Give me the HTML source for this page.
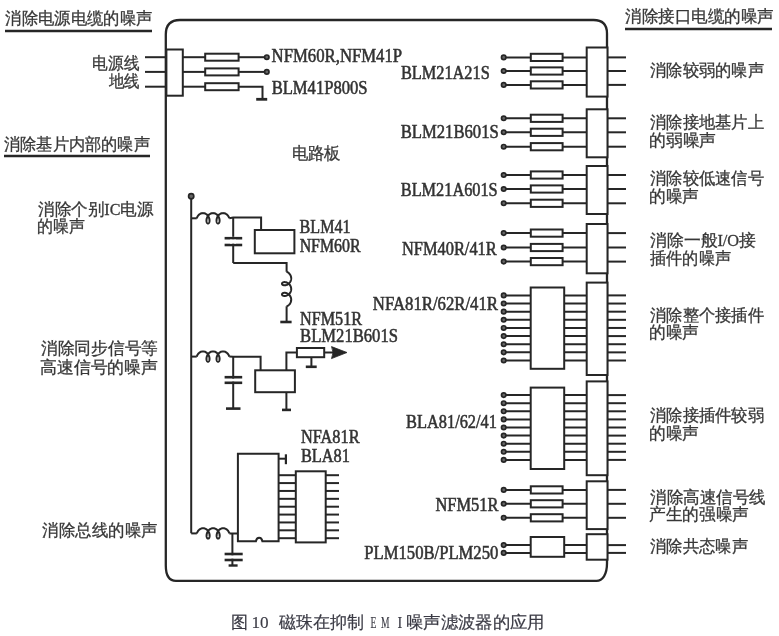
<!DOCTYPE html>
<html><head><meta charset="utf-8"><style>
html,body{margin:0;padding:0;background:#fff;width:779px;height:636px;overflow:hidden}
svg{position:absolute;left:0;top:0;filter:blur(0.35px)}
.lt{font-family:"Liberation Serif",serif;fill:#333;stroke:#333;stroke-width:0.55px}
.cj{font-family:"Liberation Serif",serif;fill:#383838;stroke:#383838;stroke-width:0.3px}
.capl{font-family:"Liberation Serif",serif;fill:#3a3a44;stroke:#3a3a44;stroke-width:0.15px}
.cap{font-family:"Liberation Mono",monospace;fill:#3a3a44;stroke:#3a3a44;stroke-width:0.2px}
</style></head><body>
<svg width="779" height="636" viewBox="0 0 779 636">
<path d="M165.8 565.5 L165.8 34.5 Q165.8 20 180 20 L593.5 20 Q607 20 607 33.5 L607 563.5 C607 574.5 602.5 580.8 596.5 580.8 L176 580.8 Q165.8 580.8 165.8 565.5 Z" stroke="#262626" stroke-width="2.3" fill="none"/>
<text id="t0" x="5.42" y="24.00" font-size="16.5" class="cj" textLength="146.94" lengthAdjust="spacingAndGlyphs">消除电源电缆的噪声</text>
<line x1="5" y1="31" x2="152" y2="31" stroke="#262626" stroke-width="2.6"/>
<text id="t1" x="625.02" y="22.00" font-size="16.5" class="cj" textLength="148.95" lengthAdjust="spacingAndGlyphs">消除接口电缆的噪声</text>
<line x1="625" y1="29" x2="772" y2="29" stroke="#262626" stroke-width="2.6"/>
<text id="t2" x="3.94" y="149.90" font-size="16.5" class="cj" textLength="145.94" lengthAdjust="spacingAndGlyphs">消除基片内部的噪声</text>
<line x1="4" y1="156" x2="150" y2="156" stroke="#262626" stroke-width="2.6"/>
<text id="t3" x="92.44" y="68.80" font-size="16.5" class="cj" textLength="46.96" lengthAdjust="spacingAndGlyphs">电源线</text>
<text id="t4" x="108.76" y="86.60" font-size="16.5" class="cj" textLength="31.04" lengthAdjust="spacingAndGlyphs">地线</text>
<line x1="145" y1="57.2" x2="166.4" y2="57.2" stroke="#262626" stroke-width="2.0"/>
<line x1="182.8" y1="57.2" x2="205" y2="57.2" stroke="#262626" stroke-width="2.0"/>
<line x1="145" y1="71.9" x2="166.4" y2="71.9" stroke="#262626" stroke-width="2.0"/>
<line x1="182.8" y1="71.9" x2="205" y2="71.9" stroke="#262626" stroke-width="2.0"/>
<line x1="145" y1="86.7" x2="166.4" y2="86.7" stroke="#262626" stroke-width="2.0"/>
<line x1="182.8" y1="86.7" x2="205" y2="86.7" stroke="#262626" stroke-width="2.0"/>
<line x1="238.6" y1="57.2" x2="266.8" y2="57.2" stroke="#262626" stroke-width="2.0"/>
<line x1="238.6" y1="71.9" x2="266.8" y2="71.9" stroke="#262626" stroke-width="2.0"/>
<path d="M238.6 86.7 L262.5 86.7 L262.5 99.3" stroke="#262626" stroke-width="2.0" fill="none"/>
<line x1="256.2" y1="99.3" x2="267.2" y2="99.3" stroke="#262626" stroke-width="2.8"/>
<rect x="205.2" y="53.7" width="33.400000000000006" height="7.0" stroke="#262626" stroke-width="2.0" fill="#fff"/>
<rect x="205.2" y="68.4" width="33.400000000000006" height="7.0" stroke="#262626" stroke-width="2.0" fill="#fff"/>
<rect x="205.2" y="83.2" width="33.400000000000006" height="7.0" stroke="#262626" stroke-width="2.0" fill="#fff"/>
<rect x="166.4" y="49.5" width="16.400000000000006" height="46.2" stroke="#262626" stroke-width="2.0" fill="#fff"/>
<circle cx="266.8" cy="57.2" r="2.2" fill="#666" stroke="#262626" stroke-width="1.7"/>
<circle cx="266.8" cy="71.9" r="2.2" fill="#666" stroke="#262626" stroke-width="1.7"/>
<text id="t5" x="271.62" y="61.76" font-size="18" class="lt" textLength="130.52" lengthAdjust="spacingAndGlyphs">NFM60R,NFM41P</text>
<text id="t6" x="271.63" y="93.60" font-size="18" class="lt" textLength="95.97" lengthAdjust="spacingAndGlyphs">BLM41P800S</text>
<text id="t7" x="291.73" y="158.50" font-size="16.5" class="cj" textLength="48.93" lengthAdjust="spacingAndGlyphs">电路板</text>
<line x1="504" y1="57.4" x2="586.7" y2="57.4" stroke="#262626" stroke-width="2.0"/>
<line x1="607" y1="57.4" x2="626" y2="57.4" stroke="#262626" stroke-width="2.0"/>
<line x1="504" y1="71" x2="586.7" y2="71" stroke="#262626" stroke-width="2.0"/>
<line x1="607" y1="71" x2="626" y2="71" stroke="#262626" stroke-width="2.0"/>
<line x1="504" y1="84.9" x2="586.7" y2="84.9" stroke="#262626" stroke-width="2.0"/>
<line x1="607" y1="84.9" x2="626" y2="84.9" stroke="#262626" stroke-width="2.0"/>
<rect x="530.8" y="53.8" width="31.800000000000068" height="7.200000000000003" stroke="#262626" stroke-width="2.0" fill="#fff"/>
<rect x="530.8" y="67.4" width="31.800000000000068" height="7.199999999999989" stroke="#262626" stroke-width="2.0" fill="#fff"/>
<rect x="530.8" y="81.30000000000001" width="31.800000000000068" height="7.199999999999989" stroke="#262626" stroke-width="2.0" fill="#fff"/>
<rect x="586.7" y="47.5" width="20.799999999999955" height="49.099999999999994" stroke="#262626" stroke-width="2.0" fill="#fff"/>
<circle cx="503.7" cy="57.4" r="2.2" fill="#666" stroke="#262626" stroke-width="1.7"/>
<circle cx="503.7" cy="71" r="2.2" fill="#666" stroke="#262626" stroke-width="1.7"/>
<circle cx="503.7" cy="84.9" r="2.2" fill="#666" stroke="#262626" stroke-width="1.7"/>
<text id="t8" x="400.89" y="78.50" font-size="18" class="lt" textLength="88.88" lengthAdjust="spacingAndGlyphs">BLM21A21S</text>
<text id="t9" x="650.03" y="75.60" font-size="16.5" class="cj" textLength="113.94" lengthAdjust="spacingAndGlyphs">消除较弱的噪声</text>
<line x1="504" y1="118.3" x2="586.7" y2="118.3" stroke="#262626" stroke-width="2.0"/>
<line x1="607" y1="118.3" x2="626" y2="118.3" stroke="#262626" stroke-width="2.0"/>
<line x1="504" y1="132.3" x2="586.7" y2="132.3" stroke="#262626" stroke-width="2.0"/>
<line x1="607" y1="132.3" x2="626" y2="132.3" stroke="#262626" stroke-width="2.0"/>
<line x1="504" y1="146.7" x2="586.7" y2="146.7" stroke="#262626" stroke-width="2.0"/>
<line x1="607" y1="146.7" x2="626" y2="146.7" stroke="#262626" stroke-width="2.0"/>
<rect x="530.8" y="114.7" width="31.800000000000068" height="7.199999999999989" stroke="#262626" stroke-width="2.0" fill="#fff"/>
<rect x="530.8" y="128.70000000000002" width="31.800000000000068" height="7.199999999999989" stroke="#262626" stroke-width="2.0" fill="#fff"/>
<rect x="530.8" y="143.1" width="31.800000000000068" height="7.199999999999989" stroke="#262626" stroke-width="2.0" fill="#fff"/>
<rect x="586.7" y="109.3" width="20.799999999999955" height="48.000000000000014" stroke="#262626" stroke-width="2.0" fill="#fff"/>
<circle cx="503.7" cy="118.3" r="2.2" fill="#666" stroke="#262626" stroke-width="1.7"/>
<circle cx="503.7" cy="132.3" r="2.2" fill="#666" stroke="#262626" stroke-width="1.7"/>
<circle cx="503.7" cy="146.7" r="2.2" fill="#666" stroke="#262626" stroke-width="1.7"/>
<text id="t10" x="400.78" y="138.30" font-size="18" class="lt" textLength="97.93" lengthAdjust="spacingAndGlyphs">BLM21B601S</text>
<text id="t11" x="650.03" y="128.00" font-size="16.5" class="cj" textLength="113.94" lengthAdjust="spacingAndGlyphs">消除接地基片上</text>
<text id="t12" x="649.02" y="146.20" font-size="16.5" class="cj" textLength="66.97" lengthAdjust="spacingAndGlyphs">的弱噪声</text>
<line x1="504" y1="175" x2="586.7" y2="175" stroke="#262626" stroke-width="2.0"/>
<line x1="607" y1="175" x2="626" y2="175" stroke="#262626" stroke-width="2.0"/>
<line x1="504" y1="189" x2="586.7" y2="189" stroke="#262626" stroke-width="2.0"/>
<line x1="607" y1="189" x2="626" y2="189" stroke="#262626" stroke-width="2.0"/>
<line x1="504" y1="203.3" x2="586.7" y2="203.3" stroke="#262626" stroke-width="2.0"/>
<line x1="607" y1="203.3" x2="626" y2="203.3" stroke="#262626" stroke-width="2.0"/>
<rect x="530.8" y="171.4" width="31.800000000000068" height="7.199999999999989" stroke="#262626" stroke-width="2.0" fill="#fff"/>
<rect x="530.8" y="185.4" width="31.800000000000068" height="7.199999999999989" stroke="#262626" stroke-width="2.0" fill="#fff"/>
<rect x="530.8" y="199.70000000000002" width="31.800000000000068" height="7.199999999999989" stroke="#262626" stroke-width="2.0" fill="#fff"/>
<rect x="586.7" y="166" width="20.799999999999955" height="48" stroke="#262626" stroke-width="2.0" fill="#fff"/>
<circle cx="503.7" cy="175" r="2.2" fill="#666" stroke="#262626" stroke-width="1.7"/>
<circle cx="503.7" cy="189" r="2.2" fill="#666" stroke="#262626" stroke-width="1.7"/>
<circle cx="503.7" cy="203.3" r="2.2" fill="#666" stroke="#262626" stroke-width="1.7"/>
<text id="t13" x="400.80" y="196.39" font-size="18" class="lt" textLength="96.87" lengthAdjust="spacingAndGlyphs">BLM21A601S</text>
<text id="t14" x="650.03" y="184.00" font-size="16.5" class="cj" textLength="113.94" lengthAdjust="spacingAndGlyphs">消除较低速信号</text>
<text id="t15" x="649.02" y="202.40" font-size="16.5" class="cj" textLength="49.96" lengthAdjust="spacingAndGlyphs">的噪声</text>
<line x1="504" y1="233.1" x2="586.7" y2="233.1" stroke="#262626" stroke-width="2.0"/>
<line x1="607" y1="233.1" x2="626" y2="233.1" stroke="#262626" stroke-width="2.0"/>
<line x1="504" y1="247.5" x2="586.7" y2="247.5" stroke="#262626" stroke-width="2.0"/>
<line x1="607" y1="247.5" x2="626" y2="247.5" stroke="#262626" stroke-width="2.0"/>
<line x1="504" y1="261.6" x2="586.7" y2="261.6" stroke="#262626" stroke-width="2.0"/>
<line x1="607" y1="261.6" x2="626" y2="261.6" stroke="#262626" stroke-width="2.0"/>
<rect x="530.8" y="229.5" width="31.800000000000068" height="7.199999999999989" stroke="#262626" stroke-width="2.0" fill="#fff"/>
<rect x="530.8" y="243.9" width="31.800000000000068" height="7.199999999999989" stroke="#262626" stroke-width="2.0" fill="#fff"/>
<rect x="530.8" y="258.0" width="31.800000000000068" height="7.2000000000000455" stroke="#262626" stroke-width="2.0" fill="#fff"/>
<rect x="586.7" y="224" width="20.799999999999955" height="49.30000000000001" stroke="#262626" stroke-width="2.0" fill="#fff"/>
<circle cx="503.7" cy="233.1" r="2.2" fill="#666" stroke="#262626" stroke-width="1.7"/>
<circle cx="503.7" cy="247.5" r="2.2" fill="#666" stroke="#262626" stroke-width="1.7"/>
<circle cx="503.7" cy="261.6" r="2.2" fill="#666" stroke="#262626" stroke-width="1.7"/>
<text id="t16" x="402.01" y="254.70" font-size="18" class="lt" textLength="94.74" lengthAdjust="spacingAndGlyphs">NFM40R/41R</text>
<text id="t17" x="650.00" y="245.80" font-size="16.5" class="cj" textLength="106.02" lengthAdjust="spacingAndGlyphs">消除一般I/O接</text>
<text id="t18" x="650.00" y="264.20" font-size="16.5" class="cj" textLength="80.96" lengthAdjust="spacingAndGlyphs">插件的噪声</text>
<line x1="504" y1="295.4" x2="586.7" y2="295.4" stroke="#262626" stroke-width="2.0"/>
<line x1="607" y1="295.4" x2="626" y2="295.4" stroke="#262626" stroke-width="2.0"/>
<line x1="504" y1="303.53749999999997" x2="586.7" y2="303.53749999999997" stroke="#262626" stroke-width="2.0"/>
<line x1="607" y1="303.53749999999997" x2="626" y2="303.53749999999997" stroke="#262626" stroke-width="2.0"/>
<line x1="504" y1="311.67499999999995" x2="586.7" y2="311.67499999999995" stroke="#262626" stroke-width="2.0"/>
<line x1="607" y1="311.67499999999995" x2="626" y2="311.67499999999995" stroke="#262626" stroke-width="2.0"/>
<line x1="504" y1="319.8125" x2="586.7" y2="319.8125" stroke="#262626" stroke-width="2.0"/>
<line x1="607" y1="319.8125" x2="626" y2="319.8125" stroke="#262626" stroke-width="2.0"/>
<line x1="504" y1="327.95" x2="586.7" y2="327.95" stroke="#262626" stroke-width="2.0"/>
<line x1="607" y1="327.95" x2="626" y2="327.95" stroke="#262626" stroke-width="2.0"/>
<line x1="504" y1="336.0875" x2="586.7" y2="336.0875" stroke="#262626" stroke-width="2.0"/>
<line x1="607" y1="336.0875" x2="626" y2="336.0875" stroke="#262626" stroke-width="2.0"/>
<line x1="504" y1="344.225" x2="586.7" y2="344.225" stroke="#262626" stroke-width="2.0"/>
<line x1="607" y1="344.225" x2="626" y2="344.225" stroke="#262626" stroke-width="2.0"/>
<line x1="504" y1="352.3625" x2="586.7" y2="352.3625" stroke="#262626" stroke-width="2.0"/>
<line x1="607" y1="352.3625" x2="626" y2="352.3625" stroke="#262626" stroke-width="2.0"/>
<line x1="504" y1="360.5" x2="586.7" y2="360.5" stroke="#262626" stroke-width="2.0"/>
<line x1="607" y1="360.5" x2="626" y2="360.5" stroke="#262626" stroke-width="2.0"/>
<rect x="530.7" y="287.5" width="33.5" height="81.30000000000001" stroke="#262626" stroke-width="2.0" fill="#fff"/>
<rect x="586.7" y="282.6" width="20.799999999999955" height="92.39999999999998" stroke="#262626" stroke-width="2.0" fill="#fff"/>
<circle cx="503.7" cy="295.4" r="2.2" fill="#666" stroke="#262626" stroke-width="1.7"/>
<circle cx="503.7" cy="303.53749999999997" r="2.2" fill="#666" stroke="#262626" stroke-width="1.7"/>
<circle cx="503.7" cy="311.67499999999995" r="2.2" fill="#666" stroke="#262626" stroke-width="1.7"/>
<circle cx="503.7" cy="319.8125" r="2.2" fill="#666" stroke="#262626" stroke-width="1.7"/>
<circle cx="503.7" cy="327.95" r="2.2" fill="#666" stroke="#262626" stroke-width="1.7"/>
<circle cx="503.7" cy="336.0875" r="2.2" fill="#666" stroke="#262626" stroke-width="1.7"/>
<circle cx="503.7" cy="344.225" r="2.2" fill="#666" stroke="#262626" stroke-width="1.7"/>
<circle cx="503.7" cy="352.3625" r="2.2" fill="#666" stroke="#262626" stroke-width="1.7"/>
<circle cx="503.7" cy="360.5" r="2.2" fill="#666" stroke="#262626" stroke-width="1.7"/>
<text id="t19" x="372.80" y="309.50" font-size="18" class="lt" textLength="125.19" lengthAdjust="spacingAndGlyphs">NFA81R/62R/41R</text>
<text id="t20" x="650.03" y="320.50" font-size="16.5" class="cj" textLength="113.93" lengthAdjust="spacingAndGlyphs">消除整个接插件</text>
<text id="t21" x="649.02" y="338.40" font-size="16.5" class="cj" textLength="49.96" lengthAdjust="spacingAndGlyphs">的噪声</text>
<line x1="504" y1="395.1" x2="586.7" y2="395.1" stroke="#262626" stroke-width="2.0"/>
<line x1="607" y1="395.1" x2="626" y2="395.1" stroke="#262626" stroke-width="2.0"/>
<line x1="504" y1="403.20000000000005" x2="586.7" y2="403.20000000000005" stroke="#262626" stroke-width="2.0"/>
<line x1="607" y1="403.20000000000005" x2="626" y2="403.20000000000005" stroke="#262626" stroke-width="2.0"/>
<line x1="504" y1="411.3" x2="586.7" y2="411.3" stroke="#262626" stroke-width="2.0"/>
<line x1="607" y1="411.3" x2="626" y2="411.3" stroke="#262626" stroke-width="2.0"/>
<line x1="504" y1="419.4" x2="586.7" y2="419.4" stroke="#262626" stroke-width="2.0"/>
<line x1="607" y1="419.4" x2="626" y2="419.4" stroke="#262626" stroke-width="2.0"/>
<line x1="504" y1="427.5" x2="586.7" y2="427.5" stroke="#262626" stroke-width="2.0"/>
<line x1="607" y1="427.5" x2="626" y2="427.5" stroke="#262626" stroke-width="2.0"/>
<line x1="504" y1="435.6" x2="586.7" y2="435.6" stroke="#262626" stroke-width="2.0"/>
<line x1="607" y1="435.6" x2="626" y2="435.6" stroke="#262626" stroke-width="2.0"/>
<line x1="504" y1="443.7" x2="586.7" y2="443.7" stroke="#262626" stroke-width="2.0"/>
<line x1="607" y1="443.7" x2="626" y2="443.7" stroke="#262626" stroke-width="2.0"/>
<line x1="504" y1="451.79999999999995" x2="586.7" y2="451.79999999999995" stroke="#262626" stroke-width="2.0"/>
<line x1="607" y1="451.79999999999995" x2="626" y2="451.79999999999995" stroke="#262626" stroke-width="2.0"/>
<line x1="504" y1="459.9" x2="586.7" y2="459.9" stroke="#262626" stroke-width="2.0"/>
<line x1="607" y1="459.9" x2="626" y2="459.9" stroke="#262626" stroke-width="2.0"/>
<rect x="530.7" y="387.6" width="33.5" height="81.39999999999998" stroke="#262626" stroke-width="2.0" fill="#fff"/>
<rect x="586.7" y="381.4" width="20.799999999999955" height="93.80000000000001" stroke="#262626" stroke-width="2.0" fill="#fff"/>
<circle cx="503.7" cy="395.1" r="2.2" fill="#666" stroke="#262626" stroke-width="1.7"/>
<circle cx="503.7" cy="403.20000000000005" r="2.2" fill="#666" stroke="#262626" stroke-width="1.7"/>
<circle cx="503.7" cy="411.3" r="2.2" fill="#666" stroke="#262626" stroke-width="1.7"/>
<circle cx="503.7" cy="419.4" r="2.2" fill="#666" stroke="#262626" stroke-width="1.7"/>
<circle cx="503.7" cy="427.5" r="2.2" fill="#666" stroke="#262626" stroke-width="1.7"/>
<circle cx="503.7" cy="435.6" r="2.2" fill="#666" stroke="#262626" stroke-width="1.7"/>
<circle cx="503.7" cy="443.7" r="2.2" fill="#666" stroke="#262626" stroke-width="1.7"/>
<circle cx="503.7" cy="451.79999999999995" r="2.2" fill="#666" stroke="#262626" stroke-width="1.7"/>
<circle cx="503.7" cy="459.9" r="2.2" fill="#666" stroke="#262626" stroke-width="1.7"/>
<text id="t22" x="406.07" y="428.21" font-size="18" class="lt" textLength="90.87" lengthAdjust="spacingAndGlyphs">BLA81/62/41</text>
<text id="t23" x="650.03" y="421.00" font-size="16.5" class="cj" textLength="113.94" lengthAdjust="spacingAndGlyphs">消除接插件较弱</text>
<text id="t24" x="649.02" y="439.00" font-size="16.5" class="cj" textLength="49.96" lengthAdjust="spacingAndGlyphs">的噪声</text>
<line x1="504" y1="489.9" x2="586.7" y2="489.9" stroke="#262626" stroke-width="2.0"/>
<line x1="607" y1="489.9" x2="626" y2="489.9" stroke="#262626" stroke-width="2.0"/>
<line x1="504" y1="503.8" x2="586.7" y2="503.8" stroke="#262626" stroke-width="2.0"/>
<line x1="607" y1="503.8" x2="626" y2="503.8" stroke="#262626" stroke-width="2.0"/>
<line x1="504" y1="517.8" x2="586.7" y2="517.8" stroke="#262626" stroke-width="2.0"/>
<line x1="607" y1="517.8" x2="626" y2="517.8" stroke="#262626" stroke-width="2.0"/>
<rect x="530.8" y="486.29999999999995" width="31.800000000000068" height="7.2000000000000455" stroke="#262626" stroke-width="2.0" fill="#fff"/>
<rect x="530.8" y="500.2" width="31.800000000000068" height="7.2000000000000455" stroke="#262626" stroke-width="2.0" fill="#fff"/>
<rect x="530.8" y="514.1999999999999" width="31.800000000000068" height="7.2000000000000455" stroke="#262626" stroke-width="2.0" fill="#fff"/>
<rect x="586.7" y="481.3" width="20.799999999999955" height="47.80000000000001" stroke="#262626" stroke-width="2.0" fill="#fff"/>
<circle cx="503.7" cy="489.9" r="2.2" fill="#666" stroke="#262626" stroke-width="1.7"/>
<circle cx="503.7" cy="503.8" r="2.2" fill="#666" stroke="#262626" stroke-width="1.7"/>
<circle cx="503.7" cy="517.8" r="2.2" fill="#666" stroke="#262626" stroke-width="1.7"/>
<text id="t25" x="435.51" y="510.58" font-size="18" class="lt" textLength="63.00" lengthAdjust="spacingAndGlyphs">NFM51R</text>
<text id="t26" x="650.02" y="502.50" font-size="16.5" class="cj" textLength="115.96" lengthAdjust="spacingAndGlyphs">消除高速信号线</text>
<text id="t27" x="649.01" y="519.70" font-size="16.5" class="cj" textLength="99.97" lengthAdjust="spacingAndGlyphs">产生的强噪声</text>
<line x1="504" y1="545.1" x2="586.7" y2="545.1" stroke="#262626" stroke-width="2.0"/>
<line x1="607" y1="545.1" x2="626" y2="545.1" stroke="#262626" stroke-width="2.0"/>
<line x1="504" y1="552.9" x2="586.7" y2="552.9" stroke="#262626" stroke-width="2.0"/>
<line x1="607" y1="552.9" x2="626" y2="552.9" stroke="#262626" stroke-width="2.0"/>
<rect x="530.7" y="537" width="33.5" height="19.799999999999955" stroke="#262626" stroke-width="2.0" fill="#fff"/>
<rect x="586.7" y="534.2" width="20.799999999999955" height="25.5" stroke="#262626" stroke-width="2.0" fill="#fff"/>
<circle cx="503.7" cy="545.1" r="2.2" fill="#666" stroke="#262626" stroke-width="1.7"/>
<circle cx="503.7" cy="552.9" r="2.2" fill="#666" stroke="#262626" stroke-width="1.7"/>
<text id="t28" x="364.35" y="558.60" font-size="18" class="lt" textLength="133.96" lengthAdjust="spacingAndGlyphs">PLM150B/PLM250</text>
<text id="t29" x="650.04" y="552.30" font-size="16.5" class="cj" textLength="97.94" lengthAdjust="spacingAndGlyphs">消除共态噪声</text>
<text id="t30" x="38.01" y="215.00" font-size="16.5" class="cj" textLength="115.53" lengthAdjust="spacingAndGlyphs">消除个别IC电源</text>
<text id="t31" x="37.06" y="232.00" font-size="16.5" class="cj" textLength="47.90" lengthAdjust="spacingAndGlyphs">的噪声</text>
<text id="t32" x="41.01" y="353.50" font-size="16.5" class="cj" textLength="116.99" lengthAdjust="spacingAndGlyphs">消除同步信号等</text>
<text id="t33" x="40.00" y="372.90" font-size="16.5" class="cj" textLength="118.01" lengthAdjust="spacingAndGlyphs">高速信号的噪声</text>
<text id="t34" x="42.41" y="536.30" font-size="16.5" class="cj" textLength="114.95" lengthAdjust="spacingAndGlyphs">消除总线的噪声</text>
<line x1="191.2" y1="196" x2="191.2" y2="533.2" stroke="#262626" stroke-width="2.0"/>
<circle cx="191.2" cy="196.3" r="2.6" fill="#666" stroke="#262626" stroke-width="1.7"/>
<path d="M191.2 218.3 L196.76 218.30" stroke="#262626" stroke-width="2.0" fill="none"/>
<path d="M196.76 218.30 L196.94 217.79 L197.15 217.29 L197.39 216.79 L197.67 216.31 L197.98 215.85 L198.33 215.41 L198.70 215.00 L199.10 214.62 L199.53 214.28 L199.98 213.98 L200.44 213.71 L200.93 213.50 L201.43 213.32 L201.94 213.20 L202.45 213.13 L202.97 213.10 L203.49 213.13 L204.01 213.20 L204.52 213.32 L205.02 213.50 L205.50 213.71 L205.97 213.98 L206.42 214.28 L206.85 214.62 L207.25 215.00 L207.62 215.41 L207.96 215.85 L208.28 216.31 L208.56 216.79 L208.80 217.29 L209.01 217.79 L209.19 218.30 L209.33 218.81 L209.43 219.31 L209.50 219.81 L209.53 220.29 L209.54 220.75 L209.51 221.19 L209.45 221.60 L209.36 221.98 L209.25 222.32 L209.11 222.62 L208.96 222.89 L208.79 223.10 L208.60 223.28 L208.41 223.40 L208.21 223.47 L208.00 223.50 L207.79 223.47 L207.59 223.40 L207.40 223.28 L207.21 223.10 L207.04 222.89 L206.89 222.62 L206.75 222.32 L206.64 221.98 L206.55 221.60 L206.49 221.19 L206.46 220.75 L206.47 220.29 L206.50 219.81 L206.57 219.31 L206.67 218.81 L206.81 218.30 L206.99 217.79 L207.20 217.29 L207.44 216.79 L207.72 216.31 L208.04 215.85 L208.38 215.41 L208.75 215.00 L209.15 214.62 L209.58 214.28 L210.03 213.98 L210.50 213.71 L210.98 213.50 L211.48 213.32 L211.99 213.20 L212.51 213.13 L213.03 213.10 L213.55 213.13 L214.06 213.20 L214.57 213.32 L215.07 213.50 L215.56 213.71 L216.02 213.98 L216.47 214.28 L216.90 214.62 L217.30 215.00 L217.67 215.41 L218.02 215.85 L218.33 216.31 L218.61 216.79 L218.85 217.29 L219.06 217.79 L219.24 218.30 L219.38 218.81 L219.48 219.31 L219.55 219.81 L219.59 220.29 L219.59 220.75 L219.56 221.19 L219.50 221.60 L219.41 221.98 L219.30 222.32 L219.17 222.62 L219.01 222.89 L218.84 223.10 L218.66 223.28 L218.46 223.40 L218.26 223.47 L218.05 223.50 L217.85 223.47 L217.65 223.40 L217.45 223.28 L217.27 223.10 L217.09 222.89 L216.94 222.62 L216.81 222.32 L216.69 221.98 L216.61 221.60 L216.55 221.19 L216.52 220.75 L216.52 220.29 L216.55 219.81 L216.62 219.31 L216.73 218.81 L216.87 218.30 L217.04 217.79 L217.25 217.29 L217.50 216.79 L217.78 216.31 L218.09 215.85 L218.43 215.41 L218.81 215.00 L219.21 214.62 L219.63 214.28 L220.08 213.98 L220.55 213.71 L221.04 213.50 L221.53 213.32 L222.04 213.20 L222.56 213.13 L223.08 213.10 L223.60 213.13 L224.12 213.20 L224.62 213.32 L225.12 213.50 L225.61 213.71 L226.08 213.98 L226.53 214.28 L226.95 214.62 L227.35 215.00 L227.73 215.41 L228.07 215.85 L228.38 216.31 L228.66 216.79 L228.91 217.29 L229.12 217.79 L229.29 218.30" stroke="#262626" stroke-width="2.0" fill="none"/>
<path d="M229.29 218.30 L233.2 217.6 L261.1 217.6 L261.1 230" stroke="#262626" stroke-width="2.0" fill="none"/>
<line x1="233.2" y1="217.6" x2="233.2" y2="263" stroke="#262626" stroke-width="2.0"/>
<line x1="224.6" y1="238.2" x2="242.2" y2="238.2" stroke="#fff" stroke-width="2.8"/>
<line x1="224.6" y1="238.2" x2="242.2" y2="238.2" stroke="#262626" stroke-width="2.6"/>
<line x1="224.6" y1="245" x2="242.2" y2="245" stroke="#262626" stroke-width="2.6"/>
<rect x="230" y="239.6" width="6" height="4" fill="#fff"/>
<rect x="254.8" y="230" width="39.599999999999966" height="23.30000000000001" stroke="#262626" stroke-width="2.0" fill="#fff"/>
<path d="M233.2 263 L286.6 263 L286.6 270" stroke="#262626" stroke-width="2.0" fill="none"/>
<path d="M286.6 270 L286.60 271.79" stroke="#262626" stroke-width="2.0" fill="none"/>
<path d="M286.60 271.79 L287.05 271.97 L287.50 272.20 L287.94 272.46 L288.36 272.75 L288.77 273.08 L289.16 273.45 L289.52 273.84 L289.85 274.27 L290.16 274.72 L290.42 275.19 L290.66 275.69 L290.85 276.20 L291.00 276.73 L291.11 277.26 L291.18 277.81 L291.20 278.36 L291.18 278.91 L291.11 279.45 L291.00 279.99 L290.85 280.52 L290.66 281.03 L290.42 281.53 L290.16 282.00 L289.85 282.45 L289.52 282.88 L289.16 283.27 L288.77 283.63 L288.36 283.97 L287.94 284.26 L287.50 284.52 L287.05 284.74 L286.60 284.93 L286.15 285.08 L285.70 285.19 L285.26 285.26 L284.84 285.30 L284.43 285.30 L284.04 285.27 L283.68 285.21 L283.35 285.12 L283.04 285.01 L282.78 284.87 L282.54 284.70 L282.35 284.52 L282.20 284.33 L282.09 284.13 L282.02 283.92 L282.00 283.70 L282.02 283.48 L282.09 283.27 L282.20 283.07 L282.35 282.88 L282.54 282.70 L282.78 282.53 L283.04 282.39 L283.35 282.28 L283.68 282.19 L284.04 282.13 L284.43 282.10 L284.84 282.10 L285.26 282.14 L285.70 282.21 L286.15 282.32 L286.60 282.47 L287.05 282.66 L287.50 282.88 L287.94 283.14 L288.36 283.43 L288.77 283.77 L289.16 284.13 L289.52 284.52 L289.85 284.95 L290.16 285.40 L290.42 285.87 L290.66 286.37 L290.85 286.88 L291.00 287.41 L291.11 287.95 L291.18 288.49 L291.20 289.04 L291.18 289.59 L291.11 290.14 L291.00 290.67 L290.85 291.20 L290.66 291.71 L290.42 292.21 L290.16 292.68 L289.85 293.13 L289.52 293.56 L289.16 293.95 L288.77 294.32 L288.36 294.65 L287.94 294.94 L287.50 295.20 L287.05 295.43 L286.60 295.61 L286.15 295.76 L285.70 295.87 L285.26 295.94 L284.84 295.98 L284.43 295.99 L284.04 295.96 L283.68 295.89 L283.35 295.80 L283.04 295.69 L282.78 295.55 L282.54 295.39 L282.35 295.21 L282.20 295.01 L282.09 294.81 L282.02 294.60 L282.00 294.38 L282.02 294.17 L282.09 293.95 L282.20 293.75 L282.35 293.56 L282.54 293.38 L282.78 293.22 L283.04 293.08 L283.35 292.96 L283.68 292.87 L284.04 292.81 L284.43 292.78 L284.84 292.78 L285.26 292.82 L285.70 292.89 L286.15 293.00 L286.60 293.15 L287.05 293.34 L287.50 293.56 L287.94 293.82 L288.36 294.12 L288.77 294.45 L289.16 294.81 L289.52 295.21 L289.85 295.63 L290.16 296.08 L290.42 296.55 L290.66 297.05 L290.85 297.56 L291.00 298.09 L291.11 298.63 L291.18 299.17 L291.20 299.72 L291.18 300.27 L291.11 300.82 L291.00 301.35 L290.85 301.88 L290.66 302.40 L290.42 302.89 L290.16 303.36 L289.85 303.82 L289.52 304.24 L289.16 304.63 L288.77 305.00 L288.36 305.33 L287.94 305.62 L287.50 305.88 L287.05 306.11 L286.60 306.29" stroke="#262626" stroke-width="2.0" fill="none"/>
<path d="M286.60 306.29 L286.6 322" stroke="#262626" stroke-width="2.0" fill="none"/>
<line x1="280.3" y1="322" x2="291.6" y2="322" stroke="#262626" stroke-width="2.6"/>
<text id="t35" x="299.62" y="233.13" font-size="18" class="lt" textLength="50.87" lengthAdjust="spacingAndGlyphs">BLM41</text>
<text id="t36" x="299.64" y="252.35" font-size="18" class="lt" textLength="60.96" lengthAdjust="spacingAndGlyphs">NFM60R</text>
<text id="t37" x="300.07" y="324.79" font-size="18" class="lt" textLength="61.96" lengthAdjust="spacingAndGlyphs">NFM51R</text>
<text id="t38" x="300.07" y="342.00" font-size="18" class="lt" textLength="97.89" lengthAdjust="spacingAndGlyphs">BLM21B601S</text>
<path d="M191.2 356.6 L196.76 356.60" stroke="#262626" stroke-width="2.0" fill="none"/>
<path d="M196.76 356.60 L196.94 356.09 L197.15 355.59 L197.39 355.09 L197.67 354.61 L197.98 354.15 L198.33 353.71 L198.70 353.30 L199.10 352.92 L199.53 352.58 L199.98 352.28 L200.44 352.01 L200.93 351.80 L201.43 351.62 L201.94 351.50 L202.45 351.43 L202.97 351.40 L203.49 351.43 L204.01 351.50 L204.52 351.62 L205.02 351.80 L205.50 352.01 L205.97 352.28 L206.42 352.58 L206.85 352.92 L207.25 353.30 L207.62 353.71 L207.96 354.15 L208.28 354.61 L208.56 355.09 L208.80 355.59 L209.01 356.09 L209.19 356.60 L209.33 357.11 L209.43 357.61 L209.50 358.11 L209.53 358.59 L209.54 359.05 L209.51 359.49 L209.45 359.90 L209.36 360.28 L209.25 360.62 L209.11 360.92 L208.96 361.19 L208.79 361.40 L208.60 361.58 L208.41 361.70 L208.21 361.77 L208.00 361.80 L207.79 361.77 L207.59 361.70 L207.40 361.58 L207.21 361.40 L207.04 361.19 L206.89 360.92 L206.75 360.62 L206.64 360.28 L206.55 359.90 L206.49 359.49 L206.46 359.05 L206.47 358.59 L206.50 358.11 L206.57 357.61 L206.67 357.11 L206.81 356.60 L206.99 356.09 L207.20 355.59 L207.44 355.09 L207.72 354.61 L208.04 354.15 L208.38 353.71 L208.75 353.30 L209.15 352.92 L209.58 352.58 L210.03 352.28 L210.50 352.01 L210.98 351.80 L211.48 351.62 L211.99 351.50 L212.51 351.43 L213.03 351.40 L213.55 351.43 L214.06 351.50 L214.57 351.62 L215.07 351.80 L215.56 352.01 L216.02 352.28 L216.47 352.58 L216.90 352.92 L217.30 353.30 L217.67 353.71 L218.02 354.15 L218.33 354.61 L218.61 355.09 L218.85 355.59 L219.06 356.09 L219.24 356.60 L219.38 357.11 L219.48 357.61 L219.55 358.11 L219.59 358.59 L219.59 359.05 L219.56 359.49 L219.50 359.90 L219.41 360.28 L219.30 360.62 L219.17 360.92 L219.01 361.19 L218.84 361.40 L218.66 361.58 L218.46 361.70 L218.26 361.77 L218.05 361.80 L217.85 361.77 L217.65 361.70 L217.45 361.58 L217.27 361.40 L217.09 361.19 L216.94 360.92 L216.81 360.62 L216.69 360.28 L216.61 359.90 L216.55 359.49 L216.52 359.05 L216.52 358.59 L216.55 358.11 L216.62 357.61 L216.73 357.11 L216.87 356.60 L217.04 356.09 L217.25 355.59 L217.50 355.09 L217.78 354.61 L218.09 354.15 L218.43 353.71 L218.81 353.30 L219.21 352.92 L219.63 352.58 L220.08 352.28 L220.55 352.01 L221.04 351.80 L221.53 351.62 L222.04 351.50 L222.56 351.43 L223.08 351.40 L223.60 351.43 L224.12 351.50 L224.62 351.62 L225.12 351.80 L225.61 352.01 L226.08 352.28 L226.53 352.58 L226.95 352.92 L227.35 353.30 L227.73 353.71 L228.07 354.15 L228.38 354.61 L228.66 355.09 L228.91 355.59 L229.12 356.09 L229.29 356.60" stroke="#262626" stroke-width="2.0" fill="none"/>
<path d="M229.29 356.60 L233.2 356.8 L260.6 356.8 L260.6 370.3" stroke="#262626" stroke-width="2.0" fill="none"/>
<line x1="233.2" y1="356.8" x2="233.2" y2="408.6" stroke="#262626" stroke-width="2.0"/>
<rect x="230" y="378.6" width="6" height="3" fill="#fff"/>
<line x1="224.6" y1="377.2" x2="242.2" y2="377.2" stroke="#262626" stroke-width="2.6"/>
<line x1="224.6" y1="382.8" x2="242.2" y2="382.8" stroke="#262626" stroke-width="2.6"/>
<line x1="226" y1="408.6" x2="240.5" y2="408.6" stroke="#262626" stroke-width="2.6"/>
<rect x="255.2" y="370.3" width="39.69999999999999" height="21.899999999999977" stroke="#262626" stroke-width="2.0" fill="#fff"/>
<line x1="286.4" y1="392.2" x2="286.4" y2="409.9" stroke="#262626" stroke-width="2.0"/>
<line x1="282" y1="409.9" x2="291" y2="409.9" stroke="#262626" stroke-width="2.6"/>
<path d="M286.4 370.3 L286.4 352.5 L296.9 352.5" stroke="#262626" stroke-width="2.0" fill="none"/>
<rect x="296.9" y="348" width="27.30000000000001" height="9.199999999999989" stroke="#262626" stroke-width="2.0" fill="#fff"/>
<line x1="324.2" y1="352.5" x2="336" y2="352.5" stroke="#262626" stroke-width="2.0"/>
<path d="M331.5 346.6 L347 352.5 L331.5 358.6 Q334.5 352.5 331.5 346.6 Z" stroke="#262626" stroke-width="0.8" fill="#262626"/>
<line x1="311.4" y1="357.2" x2="311.4" y2="366.8" stroke="#262626" stroke-width="2.0"/>
<line x1="305.8" y1="366.8" x2="316.7" y2="366.8" stroke="#262626" stroke-width="2.6"/>
<path d="M191.2 533.4 L196.86 533.40" stroke="#262626" stroke-width="2.0" fill="none"/>
<path d="M196.86 533.40 L197.04 532.89 L197.25 532.39 L197.49 531.89 L197.77 531.41 L198.08 530.95 L198.43 530.51 L198.80 530.10 L199.20 529.72 L199.63 529.38 L200.08 529.08 L200.54 528.81 L201.03 528.60 L201.53 528.42 L202.04 528.30 L202.55 528.23 L203.07 528.20 L203.59 528.23 L204.11 528.30 L204.62 528.42 L205.12 528.60 L205.60 528.81 L206.07 529.08 L206.52 529.38 L206.95 529.72 L207.35 530.10 L207.72 530.51 L208.06 530.95 L208.38 531.41 L208.66 531.89 L208.90 532.39 L209.11 532.89 L209.29 533.40 L209.43 533.91 L209.53 534.41 L209.60 534.91 L209.63 535.39 L209.64 535.85 L209.61 536.29 L209.55 536.70 L209.46 537.08 L209.35 537.42 L209.21 537.72 L209.06 537.99 L208.89 538.20 L208.70 538.38 L208.51 538.50 L208.31 538.57 L208.10 538.60 L207.89 538.57 L207.69 538.50 L207.50 538.38 L207.31 538.20 L207.14 537.99 L206.99 537.72 L206.85 537.42 L206.74 537.08 L206.65 536.70 L206.59 536.29 L206.56 535.85 L206.57 535.39 L206.60 534.91 L206.67 534.41 L206.77 533.91 L206.91 533.40 L207.09 532.89 L207.30 532.39 L207.54 531.89 L207.82 531.41 L208.14 530.95 L208.48 530.51 L208.85 530.10 L209.25 529.72 L209.68 529.38 L210.13 529.08 L210.60 528.81 L211.08 528.60 L211.58 528.42 L212.09 528.30 L212.61 528.23 L213.13 528.20 L213.65 528.23 L214.16 528.30 L214.67 528.42 L215.17 528.60 L215.66 528.81 L216.12 529.08 L216.57 529.38 L217.00 529.72 L217.40 530.10 L217.77 530.51 L218.12 530.95 L218.43 531.41 L218.71 531.89 L218.95 532.39 L219.16 532.89 L219.34 533.40 L219.48 533.91 L219.58 534.41 L219.65 534.91 L219.69 535.39 L219.69 535.85 L219.66 536.29 L219.60 536.70 L219.51 537.08 L219.40 537.42 L219.27 537.72 L219.11 537.99 L218.94 538.20 L218.76 538.38 L218.56 538.50 L218.36 538.57 L218.15 538.60 L217.95 538.57 L217.75 538.50 L217.55 538.38 L217.37 538.20 L217.19 537.99 L217.04 537.72 L216.91 537.42 L216.79 537.08 L216.71 536.70 L216.65 536.29 L216.62 535.85 L216.62 535.39 L216.65 534.91 L216.72 534.41 L216.83 533.91 L216.97 533.40 L217.14 532.89 L217.35 532.39 L217.60 531.89 L217.88 531.41 L218.19 530.95 L218.53 530.51 L218.91 530.10 L219.31 529.72 L219.73 529.38 L220.18 529.08 L220.65 528.81 L221.14 528.60 L221.63 528.42 L222.14 528.30 L222.66 528.23 L223.18 528.20 L223.70 528.23 L224.22 528.30 L224.72 528.42 L225.22 528.60 L225.71 528.81 L226.18 529.08 L226.63 529.38 L227.05 529.72 L227.45 530.10 L227.83 530.51 L228.17 530.95 L228.48 531.41 L228.76 531.89 L229.01 532.39 L229.22 532.89 L229.39 533.40" stroke="#262626" stroke-width="2.0" fill="none"/>
<path d="M229.39 533.40 L237.9 533.6" stroke="#262626" stroke-width="2.0" fill="none"/>
<line x1="232.4" y1="533.6" x2="232.4" y2="565.5" stroke="#262626" stroke-width="2.0"/>
<rect x="229.5" y="555.3" width="6" height="3.4" fill="#fff"/>
<line x1="224.6" y1="554" x2="242.7" y2="554" stroke="#262626" stroke-width="2.6"/>
<line x1="224.6" y1="560" x2="242.7" y2="560" stroke="#262626" stroke-width="2.6"/>
<line x1="228.6" y1="565.5" x2="237.6" y2="565.5" stroke="#262626" stroke-width="2.4"/>
<path d="M237.9 541.3 L237.9 453.7 L278.6 453.7 L278.6 541.3 L262.4 541.3 C261.5 536.5 256.8 536.5 255.9 541.3 L237.9 541.3 Z" stroke="#262626" stroke-width="2.0" fill="#fff"/>
<line x1="278.6" y1="458.7" x2="285.9" y2="458.7" stroke="#262626" stroke-width="2.0"/>
<line x1="285.9" y1="454.3" x2="285.9" y2="464.2" stroke="#262626" stroke-width="2.2"/>
<line x1="278.6" y1="475.2" x2="295.8" y2="475.2" stroke="#262626" stroke-width="2.0"/>
<line x1="325.7" y1="475.2" x2="339" y2="475.2" stroke="#262626" stroke-width="2.0"/>
<line x1="278.6" y1="483.075" x2="295.8" y2="483.075" stroke="#262626" stroke-width="2.0"/>
<line x1="325.7" y1="483.075" x2="339" y2="483.075" stroke="#262626" stroke-width="2.0"/>
<line x1="278.6" y1="490.95" x2="295.8" y2="490.95" stroke="#262626" stroke-width="2.0"/>
<line x1="325.7" y1="490.95" x2="339" y2="490.95" stroke="#262626" stroke-width="2.0"/>
<line x1="278.6" y1="498.825" x2="295.8" y2="498.825" stroke="#262626" stroke-width="2.0"/>
<line x1="325.7" y1="498.825" x2="339" y2="498.825" stroke="#262626" stroke-width="2.0"/>
<line x1="278.6" y1="506.70000000000005" x2="295.8" y2="506.70000000000005" stroke="#262626" stroke-width="2.0"/>
<line x1="325.7" y1="506.70000000000005" x2="339" y2="506.70000000000005" stroke="#262626" stroke-width="2.0"/>
<line x1="278.6" y1="514.575" x2="295.8" y2="514.575" stroke="#262626" stroke-width="2.0"/>
<line x1="325.7" y1="514.575" x2="339" y2="514.575" stroke="#262626" stroke-width="2.0"/>
<line x1="278.6" y1="522.45" x2="295.8" y2="522.45" stroke="#262626" stroke-width="2.0"/>
<line x1="325.7" y1="522.45" x2="339" y2="522.45" stroke="#262626" stroke-width="2.0"/>
<line x1="278.6" y1="530.325" x2="295.8" y2="530.325" stroke="#262626" stroke-width="2.0"/>
<line x1="325.7" y1="530.325" x2="339" y2="530.325" stroke="#262626" stroke-width="2.0"/>
<line x1="278.6" y1="538.2" x2="295.8" y2="538.2" stroke="#262626" stroke-width="2.0"/>
<line x1="325.7" y1="538.2" x2="339" y2="538.2" stroke="#262626" stroke-width="2.0"/>
<rect x="295.8" y="471.3" width="29.899999999999977" height="71.09999999999997" stroke="#262626" stroke-width="2.0" fill="#fff"/>
<text id="t39" x="300.95" y="442.70" font-size="18" class="lt" textLength="58.60" lengthAdjust="spacingAndGlyphs">NFA81R</text>
<text id="t40" x="300.97" y="461.81" font-size="18" class="lt" textLength="48.82" lengthAdjust="spacingAndGlyphs">BLA81</text>
<text id="t41" x="230.58" y="628.00" font-size="17" class="cap" textLength="17.03" lengthAdjust="spacingAndGlyphs">图</text>
<text id="t42" x="251.43" y="628.00" font-size="17" class="capl" textLength="17.15" lengthAdjust="spacingAndGlyphs">10</text>
<text id="t43" x="279.00" y="628.00" font-size="17" class="cap" textLength="84.99" lengthAdjust="spacingAndGlyphs">磁珠在抑制</text>
<text id="t44" x="370.53" y="627.70" font-size="17" class="capl" textLength="5.99" lengthAdjust="spacingAndGlyphs">E</text>
<text id="t45" x="380.95" y="627.70" font-size="17" class="capl" textLength="8.51" lengthAdjust="spacingAndGlyphs">M</text>
<text id="t46" x="397.52" y="627.70" font-size="17" class="capl" textLength="4.74" lengthAdjust="spacingAndGlyphs">I</text>
<text id="t47" x="405.78" y="628.00" font-size="17" class="cap" textLength="139.11" lengthAdjust="spacingAndGlyphs">噪声滤波器的应用</text>
</svg>
</body></html>
